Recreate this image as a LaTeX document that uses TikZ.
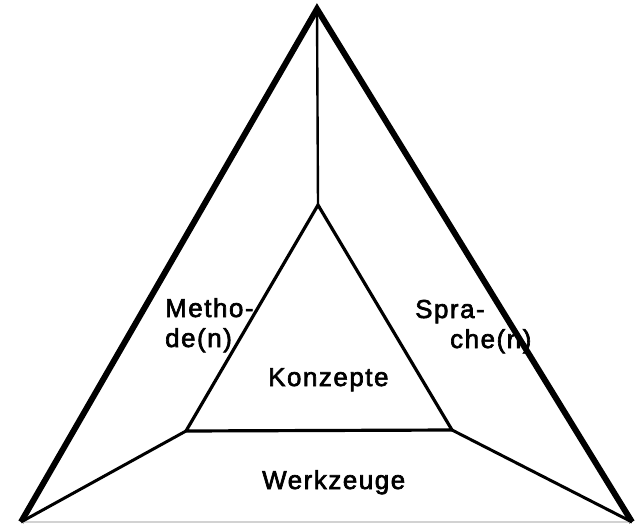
\documentclass[tikz,border=0pt]{standalone}
\usepackage{fontspec}
\newfontfamily\lblfont[LetterSpace=6, FakeBold=2.5]{Liberation Sans}
\begin{document}
\begin{tikzpicture}[x=1bp, y=-1bp, every node/.style={font=\lblfont\fontsize{26}{31}\selectfont, inner sep=0pt}]
  \useasboundingbox (0,0) rectangle (638,526);
  % Outer vertices
  \coordinate (top) at (317,9);
  \coordinate (left) at (21,522);
  \coordinate (right) at (632,522);
  % Inner vertices
  \coordinate (itop) at (318,205);
  \coordinate (ileft) at (186,431);
  \coordinate (iright) at (452,430);
  % Outer triangle
  \draw[line width=6pt, line join=miter] (left) -- (top) -- (right);
  \draw[gray!35, line width=1.2pt] (left) -- (right);
  % Spokes
  \draw[line width=2.4pt] (top) -- (itop);
  \draw[line width=3pt] (left) -- (ileft);
  \draw[line width=3pt] (right) -- (iright);
  % Inner triangle
  \draw[line width=3.2pt, line join=miter] (itop) -- (ileft) -- (iright) -- cycle;
  % Labels
  \node[anchor=base west] (meth1) at (165,317) {Metho-};
  \node[anchor=base west] (meth2) at (165,347) {de(n)};
  \node[anchor=base west] (spr1) at (415,318) {Spra-};
  \node[anchor=base west] (spr2) at (450,348) {che(n)};
  \node[anchor=base west] (konz) at (268,386) {Konzepte};
  \node[anchor=base west] (werk) at (262,489) {Werkzeuge};
\end{tikzpicture}
\end{document}
